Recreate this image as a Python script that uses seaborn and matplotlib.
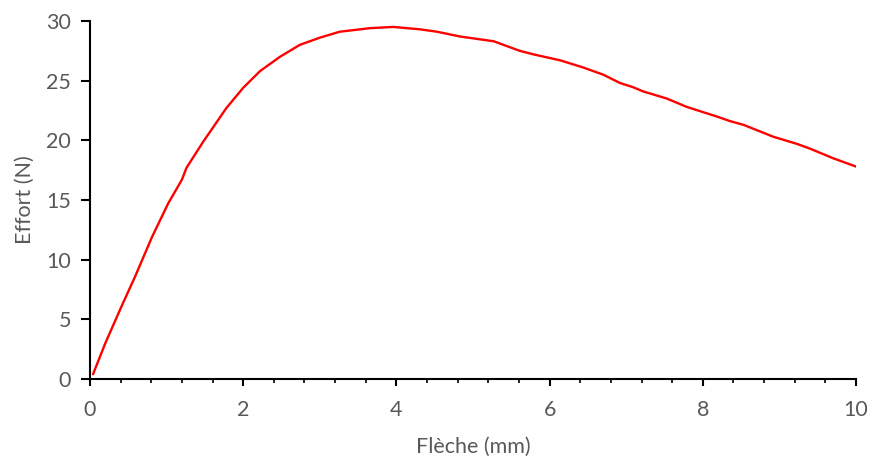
import matplotlib
matplotlib.use('Agg')
import matplotlib.pyplot as plt
import seaborn as sns
import pandas as pd
from matplotlib.ticker import MultipleLocator

# données
fleche = [0.04, 0.2, 0.41, 0.59, 0.81, 1.02, 1.2, 1.26, 1.48, 1.78, 2.0, 2.22, 2.48, 2.74,
          3.0, 3.26, 3.66, 3.96, 4.31, 4.53, 4.83, 5.05, 5.27, 5.61, 5.79, 6.14, 6.44, 6.7,
          6.92, 7.09, 7.22, 7.53, 7.79, 8.18, 8.36, 8.53, 8.92, 9.23, 9.4, 9.7, 10.0]
effort = [0.4, 3.0, 6.06, 8.6, 11.9, 14.7, 16.7, 17.7, 19.9, 22.7, 24.4, 25.8, 27.0, 28.0,
          28.6, 29.1, 29.4, 29.5, 29.3, 29.1, 28.7, 28.5, 28.3, 27.5, 27.2, 26.7, 26.1, 25.5,
          24.8, 24.45, 24.1, 23.5, 22.8, 22.0, 21.6, 21.3, 20.3, 19.7, 19.3, 18.5, 17.8]

df = pd.DataFrame({'fleche': fleche, 'effort': effort})

sns.set_style('ticks')
plt.rcParams['font.family'] = ['Lato', 'DejaVu Sans']

fig = plt.figure(figsize=(8.71, 4.59), dpi=100)
ax = fig.add_axes([0.1033, 0.1743, 0.8795, 0.78])

sns.lineplot(data=df, x='fleche', y='effort', color='#ff0000', linewidth=1.7,
             sort=False, estimator=None, ax=ax)

ax.set_xlim(0, 10)
ax.set_ylim(0, 30)
ax.xaxis.set_major_locator(MultipleLocator(2))
ax.xaxis.set_minor_locator(MultipleLocator(0.4))
ax.yaxis.set_major_locator(MultipleLocator(5))

sns.despine(ax=ax)
for s in ['left', 'bottom']:
    ax.spines[s].set_linewidth(1.5)
    ax.spines[s].set_color('black')

gris = '#595959'
ax.tick_params(axis='x', which='major', length=5, width=1.5, color='black',
               labelsize=15.5, labelcolor=gris, pad=10)
ax.tick_params(axis='x', which='minor', length=3, width=1.2, color='black')
ax.tick_params(axis='y', which='major', length=6.5, width=1.5, color='black',
               labelsize=15.5, labelcolor=gris, pad=7)

ax.set_xlabel('Flèche (mm)', fontsize=15.5, color=gris, labelpad=12)
ax.set_ylabel('Effort (N)', fontsize=15.5, color=gris, labelpad=8)

fig.savefig('out.png', dpi=100)
